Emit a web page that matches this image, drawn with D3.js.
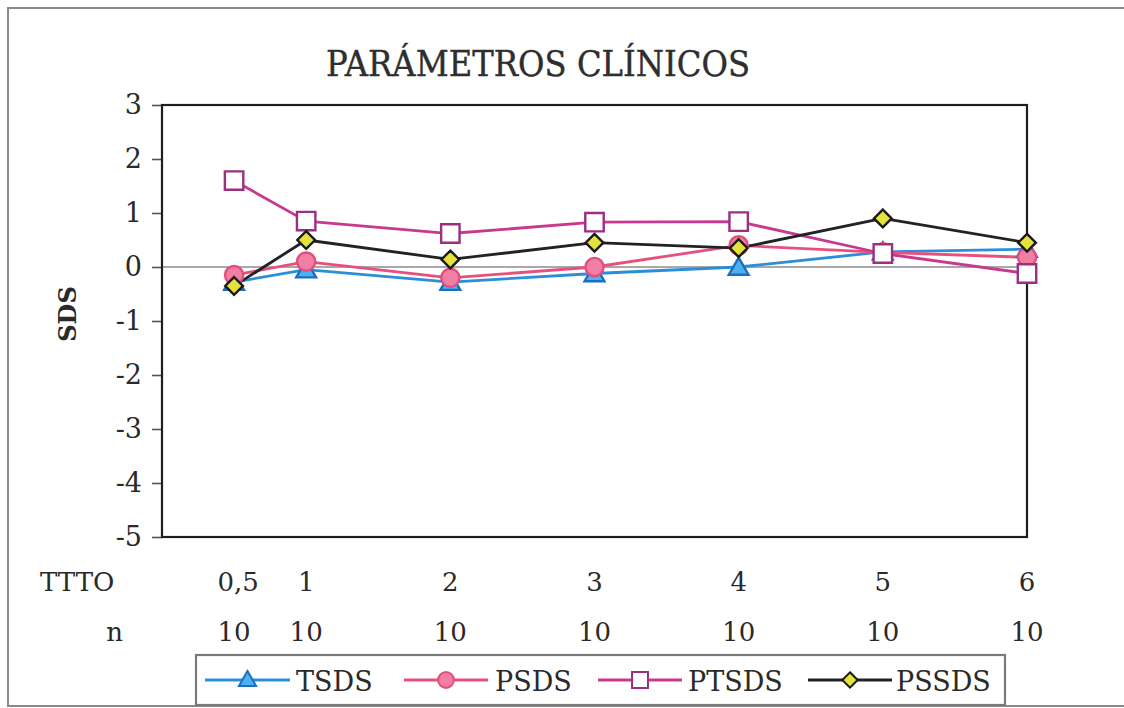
<!DOCTYPE html>
<html>
<head>
<meta charset="utf-8">
<script src="https://cdn.jsdelivr.net/npm/d3@7"></script>
<style>
  html, body { margin: 0; padding: 0; background: #fff; }
  svg { display: block; }
  text { font-family: "DejaVu Serif", "Liberation Serif", serif; fill: #2a2a2a; }
</style>
</head>
<body>
<svg id="chart" width="1124" height="708"></svg>
<script>
// Treatment time (years) and sample size per visit
const ttto = [0.5, 1, 2, 3, 4, 5, 6];
const tttoLabels = ["0,5", "1", "2", "3", "4", "5", "6"];
const nCounts = [10, 10, 10, 10, 10, 10, 10];

// SDS values per series
const tsds  = [-0.28, -0.05, -0.28, -0.12, 0.00, 0.28, 0.33];
const psds  = [-0.15,  0.10, -0.20,  0.00, 0.40, 0.27, 0.18];
const ptsds = [ 1.60,  0.85,  0.62,  0.83, 0.84, 0.25, -0.12];
const pssds = [-0.35,  0.50,  0.14,  0.45, 0.35, 0.90, 0.45];

const yTicks = [3, 2, 1, 0, -1, -2, -3, -4, -5];

const series = [
  { name: "TSDS",  values: tsds,  line: "#2a8fd8", shape: d3.symbolTriangle, fill: "#4fb0ee", stroke: "#1c6fc0", size: 170 },
  { name: "PSDS",  values: psds,  line: "#e8507c", shape: d3.symbolCircle,   fill: "#f27ea4", stroke: "#e0507e", size: 260 },
  { name: "PTSDS", values: ptsds, line: "#c8388e", shape: d3.symbolSquare,   fill: "#ffffff", stroke: "#9c2f80", size: 340 },
  { name: "PSSDS", values: pssds, line: "#222222", shape: d3.symbolDiamond2, fill: "#e6e23c", stroke: "#1a1a1a", size: 200 }
];

const svg = d3.select("#chart");
const W = 1124, H = 708;
const plot = { left: 162, right: 1027, top: 105, bottom: 537 };

// Outer frame
svg.append("rect")
  .attr("x", 8).attr("y", 8).attr("width", W + 10).attr("height", H - 10)
  .attr("fill", "none").attr("stroke", "#8a8a8a").attr("stroke-width", 2);

// Title
svg.append("text")
  .attr("x", 538).attr("y", 76)
  .attr("text-anchor", "middle")
  .attr("font-family", "Liberation Serif, serif")
  .attr("font-size", 35)
  .attr("textLength", 424).attr("lengthAdjust", "spacingAndGlyphs")
  .style("fill", "#2e2e2e")
  .style("stroke", "#2e2e2e").style("stroke-width", 0.4)
  .text("PARÁMETROS CLÍNICOS");

const x = d3.scaleLinear().domain([0, 6]).range([plot.left, plot.right]);
const y = d3.scaleLinear().domain([-5, 3]).range([plot.bottom, plot.top]);

// Zero reference line
svg.append("line")
  .attr("x1", plot.left).attr("x2", plot.right)
  .attr("y1", y(0)).attr("y2", y(0))
  .attr("stroke", "#8c8c8c").attr("stroke-width", 1.6);

// Y axis
const yAxis = svg.append("g")
  .attr("transform", `translate(${plot.left},0)`)
  .call(d3.axisLeft(y).tickValues(yTicks).tickSize(10).tickPadding(10).tickFormat(d => String(d)));
yAxis.select(".domain").remove();
yAxis.selectAll(".tick line").attr("stroke", "#555").attr("stroke-width", 1.6);
yAxis.selectAll(".tick text")
  .attr("font-family", "DejaVu Serif, serif")
  .attr("font-size", 27)
  .style("fill", "#2a2a2a");

// Plot frame
svg.append("rect")
  .attr("x", plot.left).attr("y", plot.top)
  .attr("width", plot.right - plot.left).attr("height", plot.bottom - plot.top)
  .attr("fill", "none").attr("stroke", "#1e1e1e").attr("stroke-width", 2.2);

// Y axis title
svg.append("text")
  .attr("transform", "translate(76,314) rotate(-90)")
  .attr("text-anchor", "middle")
  .attr("font-size", 24).attr("font-weight", "bold")
  .text("SDS");

// Category rows under the plot
svg.append("text").attr("x", 40).attr("y", 591).attr("font-size", 26).text("TTTO");
svg.append("text").attr("x", 123).attr("y", 641).attr("text-anchor", "end").attr("font-size", 26).text("n");

svg.append("g").selectAll("text").data(ttto).join("text")
  .attr("x", (d, i) => x(d) + (i === 0 ? 4 : 0))
  .attr("y", 591)
  .attr("text-anchor", "middle")
  .attr("font-size", 26)
  .text((d, i) => tttoLabels[i]);

svg.append("g").selectAll("text").data(ttto).join("text")
  .attr("x", d => x(d))
  .attr("y", 641)
  .attr("text-anchor", "middle")
  .attr("font-size", 26)
  .text((d, i) => nCounts[i]);

// Series lines
const lineGen = d3.line().x(d => x(d[0])).y(d => y(d[1]));
series.forEach(s => {
  const pts = ttto.map((t, i) => [t, s.values[i]]);
  svg.append("path")
    .attr("d", lineGen(pts))
    .attr("fill", "none")
    .attr("stroke", s.line)
    .attr("stroke-width", 2.8)
    .attr("stroke-linejoin", "round");
});

// Series markers
series.forEach(s => {
  const sym = d3.symbol().type(s.shape).size(s.size);
  svg.append("g").selectAll("path").data(ttto).join("path")
    .attr("d", sym)
    .attr("transform", (t, i) => `translate(${x(t)},${y(s.values[i]) + (s.shape === d3.symbolTriangle ? 2 : 0)})`)
    .attr("fill", s.fill)
    .attr("stroke", s.stroke)
    .attr("stroke-width", 2.4);
});

// Legend
const legend = svg.append("g");
legend.append("rect")
  .attr("x", 196).attr("y", 655).attr("width", 809).attr("height", 50)
  .attr("fill", "#fff").attr("stroke", "#7a7a7a").attr("stroke-width", 2.2);

const legendPos = [
  { x0: 205, x1: 290, tx: 296 },
  { x0: 404, x1: 488, tx: 495 },
  { x0: 598, x1: 682, tx: 688 },
  { x0: 808, x1: 892, tx: 896 }
];
series.forEach((s, i) => {
  const p = legendPos[i];
  const cy = 680;
  legend.append("line")
    .attr("x1", p.x0).attr("x2", p.x1).attr("y1", cy).attr("y2", cy)
    .attr("stroke", s.line).attr("stroke-width", 2.8);
  legend.append("path")
    .attr("d", d3.symbol().type(s.shape).size(s.size * 0.75))
    .attr("transform", `translate(${(p.x0 + p.x1) / 2},${cy + (s.shape === d3.symbolTriangle ? 1 : 0)})`)
    .attr("fill", s.fill).attr("stroke", s.stroke).attr("stroke-width", 2);
  legend.append("text")
    .attr("x", p.tx).attr("y", 691)
    .attr("font-size", 27)
    .text(s.name);
});
</script>
</body>
</html>
